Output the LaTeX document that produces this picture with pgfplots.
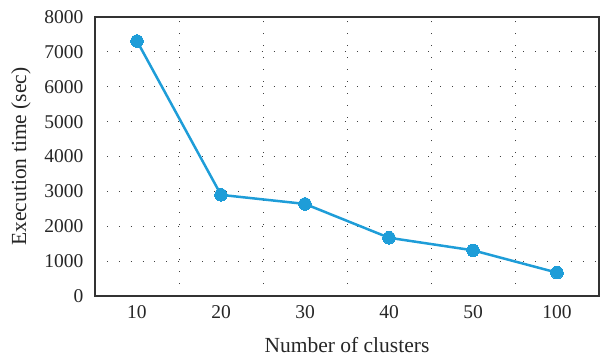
\documentclass[border=0pt]{standalone}
\usepackage{fontspec}
\setmainfont{Liberation Serif}
\usepackage{pgfplots}
\pgfplotsset{compat=1.18}
\definecolor{lineblue}{HTML}{1E9DD8}
\begin{document}
\begin{tikzpicture}
\path[use as bounding box] (-95pt,-61pt) rectangle (507pt,296pt);
\begin{axis}[
  at={(0,0)}, anchor=south west,
  scale only axis, width=504pt, height=279pt,
  xmin=-0.5, xmax=5.5, ymin=0, ymax=8000,
  xtick={0,1,2,3,4,5},
  xticklabels={10,20,30,40,50,100},
  minor xtick={0.5,1.5,2.5,3.5,4.5},
  ytick={0,1000,...,8000},
  major tick length=0pt, minor tick length=0pt,
  xminorgrids=true, ymajorgrids=true,
  grid style={black!75, line width=0.9pt, dash pattern=on 0.9pt off 11pt},
  minor grid style={black!75, line width=0.9pt, dash pattern=on 0.9pt off 11pt},
  axis line style={black!80, line width=1.1pt},
  /pgf/number format/1000 sep={},
  /pgf/number format/assume math mode=true,
  tick label style={font=\fontsize{19.5}{22}\selectfont, text=black!85},
  label style={font=\fontsize{21.5}{24}\selectfont, text=black!85},
  yticklabel style={xshift=-8pt},
  xticklabel style={yshift=-6pt},
  xlabel={Number of clusters},
  ylabel={Execution time (sec)},
  xlabel style={yshift=-12pt},
  ylabel style={yshift=7pt},
]
\addplot[color=lineblue, line width=2.5pt, mark=*, mark size=6.3pt,
  mark options={fill=lineblue, draw=lineblue, line width=0pt}]
  coordinates {(0,7310) (1,2900) (2,2640) (3,1670) (4,1310) (5,670)};
\end{axis}
\end{tikzpicture}
\end{document}
